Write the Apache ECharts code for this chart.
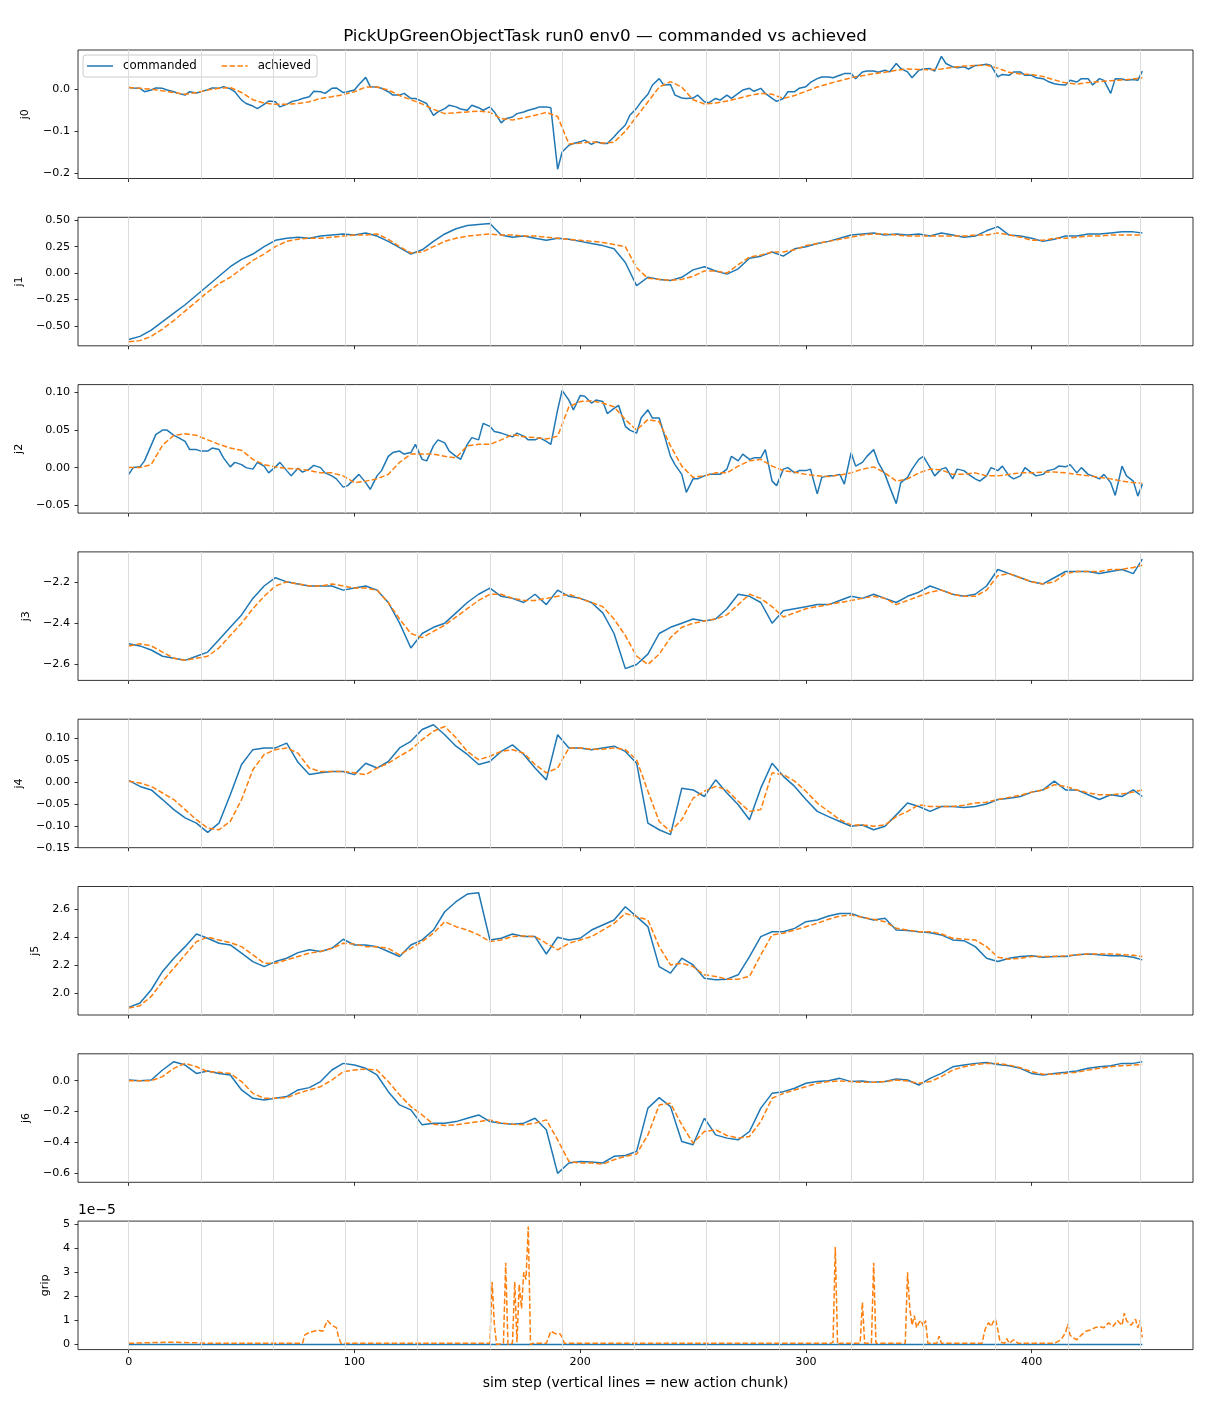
<!DOCTYPE html>
<html>
<head>
<meta charset="utf-8">
<title>PickUpGreenObjectTask run0 env0 — commanded vs achieved</title>
<script src="https://cdn.jsdelivr.net/npm/echarts@6.0.0/dist/echarts.min.js"></script>
<style>
  html, body { margin: 0; padding: 0; background: #fff; }
  #chart { width: 1210px; height: 1408px; }
</style>
</head>
<body>
<div id="chart"></div>
<script>
// sim steps sampled for the joint traces
var steps = [0,5,10,15,20,25,30,35,40,45,50,55,60,65,70,75,80,85,90,95,
  100,105,110,115,120,125,130,135,140,145,150,155,160,165,170,175,180,185,190,195,
  200,205,210,215,220,225,230,235,240,245,250,255,260,265,270,275,280,285,290,295,
  300,305,310,315,320,325,330,335,340,345,350,355,360,365,370,375,380,385,390,395,
  400,405,410,415,420,425,430,435,440,445,449];

// denser sampling for the noisiest commanded traces (j0, j2)
var stepsFine = [0,2,5,7,10,12,15,17,20,22,25,27,30,32,35,37,40,42,45,47,
  50,52,55,57,60,62,65,67,70,72,75,77,80,82,85,87,90,92,95,97,
  100,102,105,107,110,112,115,117,120,122,125,127,130,132,135,137,140,142,145,147,
  150,152,155,157,160,162,165,167,170,172,175,177,180,182,185,187,190,192,195,197,
  200,202,205,207,210,212,215,217,220,222,225,227,230,232,235,237,240,242,245,247,
  250,252,255,257,260,262,265,267,270,272,275,277,280,282,285,287,290,292,295,297,
  300,302,305,307,310,312,315,317,320,322,325,327,330,332,335,337,340,342,345,347,
  350,352,355,357,360,362,365,367,370,372,375,377,380,382,385,387,390,392,395,397,
  400,402,405,407,410,412,415,417,420,422,425,427,430,432,435,437,440,442,445,447,
  449];

// a new action chunk starts every 32 steps
var chunkSteps = [0,32,64,96,128,160,192,224,256,288,320,352,384,416,448];

var j0Cmd = [0.004,0.003,0.002,-0.006,-0.002,0.003,0.002,-0.002,-0.006,-0.010,
  -0.014,-0.006,-0.009,-0.006,-0.001,0.003,0.002,0.006,0.001,-0.006,
  -0.026,-0.034,-0.040,-0.046,-0.036,-0.028,-0.030,-0.042,-0.036,-0.030,
  -0.026,-0.022,-0.018,-0.005,-0.006,-0.010,0.002,0.003,-0.008,-0.006,
  -0.002,0.011,0.028,0.006,0.005,0.002,-0.006,-0.014,-0.014,-0.010,
  -0.022,-0.022,-0.029,-0.034,-0.062,-0.054,-0.046,-0.038,-0.042,-0.047,
  -0.050,-0.038,-0.044,-0.050,-0.042,-0.054,-0.080,-0.070,-0.066,-0.058,
  -0.054,-0.050,-0.046,-0.042,-0.042,-0.044,-0.190,-0.149,-0.133,-0.129,
  -0.125,-0.121,-0.131,-0.125,-0.129,-0.129,-0.113,-0.101,-0.085,-0.062,
  -0.045,-0.030,-0.012,0.010,0.025,0.010,0.011,-0.014,-0.021,-0.022,
  -0.021,-0.014,-0.030,-0.032,-0.022,-0.026,-0.014,-0.022,-0.010,-0.002,
  0.002,-0.005,0.002,-0.010,-0.022,-0.029,-0.022,-0.006,-0.006,0.002,
  0.006,0.016,0.025,0.029,0.029,0.027,0.033,0.037,0.037,0.025,
  0.041,0.043,0.043,0.040,0.045,0.041,0.061,0.049,0.041,0.027,
  0.045,0.048,0.049,0.043,0.078,0.061,0.053,0.051,0.053,0.048,
  0.056,0.057,0.059,0.056,0.029,0.035,0.033,0.041,0.041,0.033,
  0.033,0.027,0.025,0.019,0.013,0.011,0.010,0.021,0.017,0.025,
  0.025,0.010,0.025,0.021,-0.010,0.025,0.024,0.021,0.023,0.021,
  0.043];
var j0Ach = [0.004,0.002,0.000,-0.004,-0.008,-0.012,-0.008,-0.002,0.002,0.004,
  -0.008,-0.025,-0.033,-0.036,-0.036,-0.034,-0.030,-0.022,-0.018,-0.013,
  -0.006,0.005,0.005,-0.002,-0.015,-0.025,-0.035,-0.048,-0.058,-0.056,
  -0.054,-0.052,-0.055,-0.070,-0.073,-0.068,-0.062,-0.055,-0.065,-0.130,
  -0.128,-0.125,-0.128,-0.126,-0.100,-0.065,-0.030,0.005,0.018,0.005,
  -0.025,-0.035,-0.033,-0.028,-0.022,-0.015,-0.010,-0.012,-0.022,-0.015,
  -0.005,0.005,0.013,0.020,0.027,0.032,0.037,0.040,0.045,0.048,
  0.047,0.046,0.048,0.052,0.055,0.056,0.057,0.050,0.040,0.036,
  0.035,0.030,0.022,0.015,0.012,0.016,0.018,0.020,0.022,0.024,
  0.027];

var j1Cmd = [-0.63,-0.60,-0.54,-0.46,-0.38,-0.30,-0.21,-0.12,-0.03,0.06,
  0.13,0.18,0.25,0.31,0.33,0.34,0.33,0.35,0.36,0.37,
  0.36,0.38,0.35,0.30,0.24,0.18,0.22,0.30,0.37,0.42,
  0.45,0.46,0.47,0.36,0.34,0.35,0.33,0.31,0.33,0.32,
  0.30,0.28,0.26,0.23,0.10,-0.12,-0.04,-0.06,-0.07,-0.04,
  0.03,0.06,0.02,-0.01,0.04,0.14,0.16,0.20,0.16,0.23,
  0.25,0.28,0.30,0.33,0.36,0.37,0.38,0.36,0.37,0.36,
  0.37,0.35,0.38,0.36,0.34,0.35,0.40,0.44,0.36,0.35,
  0.33,0.30,0.32,0.35,0.35,0.37,0.37,0.38,0.39,0.39,
  0.38];
var j1Ach = [-0.65,-0.64,-0.60,-0.53,-0.45,-0.36,-0.27,-0.18,-0.10,-0.04,
  0.04,0.12,0.18,0.25,0.30,0.32,0.33,0.33,0.34,0.35,
  0.36,0.36,0.37,0.32,0.25,0.19,0.20,0.25,0.30,0.33,
  0.35,0.36,0.37,0.36,0.36,0.35,0.35,0.34,0.33,0.32,
  0.31,0.30,0.29,0.27,0.25,0.05,-0.05,-0.06,-0.07,-0.06,
  -0.03,0.02,0.02,0.00,0.08,0.15,0.17,0.20,0.20,0.22,
  0.26,0.28,0.30,0.32,0.34,0.36,0.37,0.37,0.36,0.35,
  0.35,0.35,0.35,0.35,0.35,0.36,0.36,0.38,0.36,0.34,
  0.31,0.31,0.33,0.33,0.34,0.35,0.35,0.36,0.36,0.36,
  0.36];

var j2Cmd = [-0.009,0.000,0.001,0.009,0.030,0.044,0.050,0.050,0.043,0.040,
  0.035,0.024,0.024,0.022,0.022,0.026,0.024,0.013,0.001,0.007,
  0.004,0.000,-0.002,0.007,0.002,-0.007,0.001,0.007,-0.004,-0.011,
  -0.001,-0.006,-0.002,0.003,0.000,-0.007,-0.011,-0.015,-0.026,-0.024,
  -0.015,-0.009,-0.020,-0.029,-0.011,-0.004,0.015,0.020,0.022,0.018,
  0.020,0.031,0.011,0.009,0.029,0.037,0.033,0.022,0.015,0.011,
  0.031,0.040,0.037,0.059,0.055,0.048,0.046,0.044,0.041,0.046,
  0.042,0.037,0.037,0.040,0.035,0.031,0.077,0.103,0.090,0.077,
  0.096,0.095,0.086,0.090,0.088,0.072,0.079,0.083,0.055,0.050,
  0.046,0.066,0.077,0.066,0.066,0.046,0.015,0.004,-0.009,-0.033,
  -0.015,-0.015,-0.011,-0.009,-0.009,-0.009,-0.002,0.015,0.009,0.018,
  0.011,0.013,0.013,0.024,-0.018,-0.024,-0.002,0.000,-0.007,-0.004,
  -0.004,-0.002,-0.035,-0.013,-0.011,-0.011,-0.009,-0.022,0.020,0.002,
  0.007,0.015,0.024,0.007,-0.009,-0.025,-0.048,-0.020,-0.013,-0.002,
  0.011,0.015,0.000,-0.011,-0.002,0.000,-0.015,-0.002,-0.004,-0.009,
  -0.015,-0.018,-0.011,0.000,-0.004,0.002,-0.011,-0.015,-0.011,0.000,
  -0.007,-0.011,-0.009,-0.004,-0.002,0.002,0.001,0.004,-0.007,0.000,
  -0.009,-0.011,-0.015,-0.009,-0.020,-0.037,0.002,-0.011,-0.018,-0.038,
  -0.022];
var j2Ach = [0.000,0.000,0.004,0.030,0.043,0.045,0.043,0.037,0.031,0.026,
  0.023,0.011,0.004,0.001,-0.001,-0.002,-0.004,-0.007,-0.007,-0.011,
  -0.020,-0.018,-0.015,-0.009,0.007,0.018,0.018,0.018,0.015,0.013,
  0.029,0.031,0.031,0.037,0.044,0.041,0.040,0.038,0.042,0.081,
  0.088,0.089,0.086,0.081,0.064,0.050,0.064,0.061,0.029,0.002,
  -0.013,-0.011,-0.007,-0.007,0.002,0.009,0.011,0.002,-0.004,-0.006,
  -0.009,-0.011,-0.012,-0.010,-0.007,-0.002,0.001,-0.007,-0.018,-0.015,
  -0.007,-0.002,-0.003,-0.009,-0.009,-0.007,-0.011,-0.011,-0.009,-0.007,
  -0.007,-0.006,-0.006,-0.007,-0.009,-0.011,-0.013,-0.015,-0.018,-0.020,
  -0.021];

var j3Cmd = [-2.50,-2.51,-2.53,-2.56,-2.57,-2.58,-2.56,-2.54,-2.48,-2.42,
  -2.36,-2.28,-2.22,-2.18,-2.20,-2.21,-2.22,-2.22,-2.22,-2.24,
  -2.23,-2.22,-2.24,-2.30,-2.40,-2.52,-2.45,-2.42,-2.40,-2.35,
  -2.30,-2.26,-2.23,-2.27,-2.28,-2.30,-2.26,-2.31,-2.24,-2.27,
  -2.28,-2.30,-2.35,-2.45,-2.62,-2.60,-2.55,-2.45,-2.42,-2.40,
  -2.38,-2.39,-2.38,-2.33,-2.26,-2.27,-2.30,-2.40,-2.34,-2.33,
  -2.32,-2.31,-2.31,-2.29,-2.27,-2.28,-2.26,-2.28,-2.30,-2.27,
  -2.25,-2.22,-2.24,-2.26,-2.27,-2.26,-2.22,-2.14,-2.16,-2.18,
  -2.20,-2.21,-2.18,-2.15,-2.15,-2.15,-2.16,-2.15,-2.14,-2.16,
  -2.09];
var j3Ach = [-2.51,-2.50,-2.51,-2.54,-2.57,-2.58,-2.57,-2.56,-2.52,-2.46,
  -2.40,-2.33,-2.27,-2.22,-2.20,-2.21,-2.22,-2.22,-2.21,-2.22,
  -2.23,-2.23,-2.24,-2.30,-2.38,-2.45,-2.47,-2.44,-2.41,-2.37,
  -2.33,-2.29,-2.26,-2.26,-2.28,-2.29,-2.29,-2.28,-2.27,-2.26,
  -2.28,-2.30,-2.32,-2.38,-2.46,-2.56,-2.60,-2.55,-2.47,-2.42,
  -2.40,-2.39,-2.38,-2.36,-2.31,-2.26,-2.28,-2.32,-2.37,-2.35,
  -2.33,-2.32,-2.31,-2.30,-2.29,-2.28,-2.27,-2.28,-2.31,-2.29,
  -2.27,-2.25,-2.24,-2.26,-2.27,-2.27,-2.24,-2.17,-2.16,-2.18,
  -2.20,-2.21,-2.20,-2.16,-2.15,-2.15,-2.15,-2.14,-2.14,-2.13,
  -2.12];

var j4Cmd = [0.004,-0.010,-0.018,-0.040,-0.063,-0.082,-0.094,-0.115,-0.094,-0.029,
  0.040,0.074,0.078,0.078,0.089,0.045,0.017,0.021,0.024,0.024,
  0.017,0.043,0.032,0.047,0.078,0.093,0.120,0.131,0.108,0.082,
  0.063,0.040,0.047,0.070,0.085,0.063,0.032,0.005,0.108,0.078,
  0.078,0.074,0.078,0.082,0.070,0.043,-0.094,-0.109,-0.120,-0.014,
  -0.018,-0.033,0.005,-0.025,-0.052,-0.086,-0.014,0.043,0.013,-0.010,
  -0.040,-0.067,-0.079,-0.090,-0.101,-0.098,-0.109,-0.101,-0.075,-0.048,
  -0.056,-0.067,-0.056,-0.056,-0.058,-0.056,-0.050,-0.040,-0.037,-0.033,
  -0.023,-0.018,0.002,-0.018,-0.018,-0.029,-0.040,-0.029,-0.033,-0.018,
  -0.033];
var j4Ach = [0.002,-0.002,-0.010,-0.025,-0.040,-0.063,-0.086,-0.105,-0.109,-0.090,
  -0.040,0.028,0.063,0.074,0.078,0.066,0.032,0.024,0.024,0.024,
  0.021,0.017,0.032,0.043,0.059,0.074,0.097,0.116,0.127,0.101,
  0.070,0.051,0.059,0.070,0.074,0.066,0.040,0.021,0.032,0.078,
  0.078,0.075,0.075,0.078,0.074,0.051,-0.021,-0.090,-0.113,-0.086,
  -0.037,-0.021,-0.010,-0.018,-0.044,-0.067,-0.063,0.021,0.017,0.002,
  -0.021,-0.048,-0.067,-0.086,-0.098,-0.098,-0.101,-0.098,-0.079,-0.067,
  -0.052,-0.056,-0.056,-0.056,-0.053,-0.048,-0.046,-0.040,-0.035,-0.030,
  -0.023,-0.018,-0.006,-0.010,-0.018,-0.025,-0.029,-0.029,-0.027,-0.023,
  -0.018];

var j5Cmd = [1.898,1.929,2.024,2.155,2.250,2.333,2.424,2.393,2.357,2.345,
  2.286,2.226,2.190,2.226,2.250,2.290,2.310,2.298,2.321,2.386,
  2.345,2.345,2.333,2.298,2.262,2.345,2.381,2.452,2.583,2.655,
  2.710,2.719,2.381,2.393,2.424,2.405,2.405,2.280,2.400,2.381,
  2.393,2.452,2.488,2.524,2.619,2.548,2.476,2.190,2.143,2.250,
  2.202,2.107,2.095,2.100,2.131,2.262,2.405,2.440,2.440,2.464,
  2.512,2.524,2.552,2.571,2.571,2.543,2.524,2.536,2.452,2.448,
  2.440,2.433,2.417,2.381,2.376,2.333,2.250,2.226,2.250,2.262,
  2.267,2.257,2.262,2.262,2.274,2.281,2.274,2.267,2.267,2.257,
  2.238];
var j5Ach = [1.893,1.910,1.976,2.083,2.179,2.274,2.369,2.400,2.381,2.362,
  2.333,2.274,2.214,2.214,2.238,2.262,2.286,2.298,2.321,2.357,
  2.352,2.333,2.333,2.321,2.274,2.321,2.369,2.429,2.512,2.476,
  2.452,2.417,2.369,2.381,2.405,2.410,2.405,2.357,2.310,2.357,
  2.381,2.405,2.452,2.500,2.571,2.548,2.524,2.333,2.202,2.214,
  2.190,2.131,2.119,2.100,2.100,2.119,2.274,2.417,2.429,2.452,
  2.476,2.500,2.529,2.552,2.560,2.543,2.529,2.512,2.464,2.452,
  2.440,2.440,2.424,2.393,2.386,2.381,2.333,2.257,2.243,2.250,
  2.262,2.262,2.262,2.267,2.274,2.281,2.281,2.281,2.276,2.271,
  2.262];

var j6Cmd = [0.004,0.000,0.004,0.069,0.123,0.101,0.047,0.062,0.047,0.037,
  -0.060,-0.114,-0.125,-0.114,-0.103,-0.060,-0.045,-0.006,0.069,0.112,
  0.101,0.080,0.037,-0.071,-0.157,-0.189,-0.286,-0.275,-0.275,-0.265,
  -0.243,-0.222,-0.265,-0.275,-0.282,-0.275,-0.243,-0.318,-0.600,-0.533,
  -0.523,-0.527,-0.533,-0.490,-0.484,-0.458,-0.178,-0.110,-0.168,-0.394,
  -0.415,-0.243,-0.351,-0.372,-0.383,-0.329,-0.178,-0.082,-0.071,-0.049,
  -0.017,-0.006,0.000,0.015,-0.006,-0.002,-0.011,-0.006,0.011,0.004,
  -0.028,0.015,0.047,0.090,0.101,0.112,0.118,0.105,0.097,0.080,
  0.047,0.037,0.047,0.054,0.062,0.080,0.090,0.097,0.112,0.112,
  0.123];
var j6Ach = [0.000,0.000,0.000,0.026,0.080,0.112,0.090,0.058,0.054,0.047,
  -0.006,-0.082,-0.114,-0.114,-0.110,-0.082,-0.060,-0.039,0.004,0.058,
  0.069,0.075,0.069,-0.006,-0.092,-0.168,-0.222,-0.282,-0.290,-0.286,
  -0.275,-0.265,-0.254,-0.275,-0.282,-0.286,-0.275,-0.254,-0.383,-0.523,
  -0.533,-0.533,-0.540,-0.512,-0.490,-0.475,-0.351,-0.157,-0.146,-0.286,
  -0.404,-0.329,-0.318,-0.355,-0.372,-0.361,-0.265,-0.114,-0.082,-0.060,
  -0.039,-0.017,-0.006,-0.002,-0.006,-0.011,-0.011,-0.006,0.004,-0.002,
  -0.017,-0.006,0.026,0.069,0.090,0.105,0.112,0.112,0.101,0.084,
  0.058,0.041,0.041,0.047,0.054,0.069,0.080,0.090,0.097,0.101,
  0.105];

// gripper: values in units of 1e-5
var gripCmdSteps = [0, 449];
var gripCmd = [0, 0];
var gripSteps = [0,10,20,30,35,50,77,78,80,82,84,86,88,90,92,93,94,100,140,160,
  161,162,163,166,167,168,170,171,172,173,174,175,176,177,178,179,185,186,187,189,
  191,192,193,250,311,312,313,314,315,324,325,326,329,330,331,344,345,346,347,348,
  349,350,351,352,353,354,358,359,360,378,379,380,381,382,383,384,385,386,388,389,
  390,392,394,410,413,415,416,417,418,420,422,424,426,428,430,432,434,436,438,440,
  441,442,444,446,447,448,449];
var gripAch = [0.05,0.08,0.1,0.07,0.05,0.05,0.05,0.4,0.5,0.55,0.6,0.55,1.0,0.8,0.7,0.3,0.05,0.05,0.05,0.05,
  2.6,0.8,0.0,0.05,3.4,0.0,0.05,2.6,0.1,2.5,1.5,3.0,2.7,4.9,0.0,0.05,0.05,0.3,0.55,0.45,
  0.45,0.3,0.05,0.05,0.05,0.1,4.05,0.0,0.05,0.05,1.75,0.05,0.05,3.4,0.05,0.05,3.0,1.5,0.8,1.2,
  0.7,0.9,1.0,0.75,1.0,0.05,0.05,0.35,0.05,0.05,0.5,0.8,0.9,0.75,0.95,1.05,0.6,0.1,0.05,0.25,
  0.05,0.2,0.05,0.05,0.2,0.5,0.85,0.4,0.3,0.2,0.4,0.55,0.6,0.7,0.75,0.7,0.9,0.75,1.0,0.8,
  1.3,1.0,0.8,1.05,0.7,1.0,0.3];

var xTicks = [0, 100, 200, 300, 400];
var FONT = 'DejaVu Sans';
var BLUE = '#1f77b4';
var ORANGE = '#ff7f0e';

var panels = [
  { name: 'j0', cmdX: stepsFine, cmd: j0Cmd, achX: steps, ach: j0Ach, min: -0.212, max: 0.093, ticks: [-0.2, -0.1, 0.0], dec: 1, gap: 47 },
  { name: 'j1', cmdX: steps, cmd: j1Cmd, achX: steps, ach: j1Ach, min: -0.689, max: 0.528, ticks: [-0.5, -0.25, 0, 0.25, 0.5], dec: 2, gap: 53 },
  { name: 'j2', cmdX: stepsFine, cmd: j2Cmd, achX: steps, ach: j2Ach, min: -0.0606, max: 0.1106, ticks: [-0.05, 0, 0.05, 0.10], dec: 2, gap: 53 },
  { name: 'j3', cmdX: steps, cmd: j3Cmd, achX: steps, ach: j3Ach, min: -2.677, max: -2.055, ticks: [-2.6, -2.4, -2.2], dec: 1, gap: 46 },
  { name: 'j4', cmdX: steps, cmd: j4Cmd, achX: steps, ach: j4Ach, min: -0.150, max: 0.1436, ticks: [-0.15, -0.10, -0.05, 0, 0.05, 0.10], dec: 2, gap: 53 },
  { name: 'j5', cmdX: steps, cmd: j5Cmd, achX: steps, ach: j5Ach, min: 1.843, max: 2.764, ticks: [2.0, 2.2, 2.4, 2.6], dec: 1, gap: 37 },
  { name: 'j6', cmdX: steps, cmd: j6Cmd, achX: steps, ach: j6Ach, min: -0.658, max: 0.174, ticks: [-0.6, -0.4, -0.2, 0.0], dec: 1, gap: 46 },
  { name: 'grip', cmdX: gripCmdSteps, cmd: gripCmd, achX: gripSteps, ach: gripAch, min: -0.21, max: 5.125, ticks: [0, 1, 2, 3, 4, 5], dec: 0, gap: 27 }
];

var pairs = function (xs, ys, label) {
  if (xs.length !== ys.length) {
    throw new Error('length mismatch in ' + label + ': ' + xs.length + ' vs ' + ys.length);
  }
  return ys.map(function (v, i) { return [xs[i], v]; });
};

var fmt = function (dec) {
  return function (v) {
    var s = Math.abs(v).toFixed(dec);
    return (v < -1e-9 ? '\u2212' : '') + s;
  };
};

var chart = echarts.init(document.getElementById('chart'), null, { renderer: 'canvas' });

var grids = [];
var xAxes = [];
var yAxes = [];
var series = [];

panels.forEach(function (p, i) {
  var last = i === panels.length - 1;
  grids.push({
    left: 78, width: 1115, top: 50 + i * 167.3, height: 128.5,
    show: true, borderColor: '#000', borderWidth: 0.8, backgroundColor: 'transparent',
    containLabel: false, outerBoundsMode: 'none'
  });
  xAxes.push({
    type: 'value', gridIndex: i, min: -22.45, max: 471.45,
    axisLine: { show: false, onZero: false }, splitLine: { show: false },
    axisTick: { show: true, customValues: xTicks, length: 3.5, lineStyle: { color: '#000', width: 0.8 } },
    axisLabel: { show: last, customValues: xTicks, fontSize: 11.1, color: '#000', fontFamily: FONT, margin: 7 },
    name: last ? 'sim step (vertical lines = new action chunk)' : '',
    nameLocation: 'middle', nameGap: 27,
    nameTextStyle: { fontSize: 13.9, color: '#000', fontFamily: FONT }
  });
  yAxes.push({
    type: 'value', gridIndex: i, min: p.min, max: p.max,
    name: p.name, nameLocation: 'middle', nameRotate: 90, nameGap: p.gap,
    nameTextStyle: { fontSize: 11.1, color: '#000', fontFamily: FONT },
    axisLine: { show: false, onZero: false }, splitLine: { show: false },
    axisTick: { show: true, customValues: p.ticks, length: 3.5, lineStyle: { color: '#000', width: 0.8 } },
    axisLabel: { show: true, customValues: p.ticks, formatter: fmt(p.dec), fontSize: 11.1, color: '#000', fontFamily: FONT, margin: 8 }
  });
  // action chunk boundaries
  series.push({
    type: 'line', xAxisIndex: i, yAxisIndex: i, data: [], silent: true, z: 1,
    markLine: {
      silent: true, symbol: ['none', 'none'], label: { show: false },
      lineStyle: { color: '#dcdcdc', width: 1, type: 'solid' },
      emphasis: { disabled: true }, animation: false,
      data: chunkSteps.map(function (s) { return { xAxis: s }; })
    }
  });
  series.push({
    name: 'commanded', type: 'line', xAxisIndex: i, yAxisIndex: i, z: 2,
    data: pairs(p.cmdX, p.cmd, p.name + ' commanded'),
    symbol: 'none', showSymbol: false,
    lineStyle: { color: BLUE, width: 1.5 }, itemStyle: { color: BLUE },
    emphasis: { disabled: true }
  });
  series.push({
    name: 'achieved', type: 'line', xAxisIndex: i, yAxisIndex: i, z: 3,
    data: pairs(p.achX, p.ach, p.name + ' achieved'),
    symbol: 'none', showSymbol: false,
    lineStyle: { color: ORANGE, width: 1.5, type: [5.5, 2.4] }, itemStyle: { color: ORANGE },
    emphasis: { disabled: true }
  });
});

var option = {
  animation: false,
  backgroundColor: '#fff',
  textStyle: { fontFamily: FONT },
  title: {
    text: 'PickUpGreenObjectTask run0 env0 \u2014 commanded vs achieved',
    left: 'center', top: 28, padding: 0,
    textStyle: { fontSize: 16.7, fontWeight: 'normal', color: '#000', fontFamily: FONT }
  },
  legend: {
    data: [
      { name: 'commanded', icon: 'path://M0,0H26V1.5H0Z' },
      { name: 'achieved', icon: 'path://M0,0H5.5V1.5H0ZM7.9,0H13.4V1.5H7.9ZM15.8,0H21.3V1.5H15.8ZM23.7,0H26V1.5H23.7Z' }
    ],
    left: 83, top: 55, orient: 'horizontal',
    itemWidth: 26, itemHeight: 12, itemGap: 25,
    padding: [5, 6, 5, 4],
    borderColor: '#cccccc', borderWidth: 1, borderRadius: 3,
    backgroundColor: 'rgba(255,255,255,0.8)',
    selectedMode: false,
    itemStyle: { borderWidth: 0 },
    lineStyle: { width: 0 },
    textStyle: { fontSize: 11.8, color: '#000', fontFamily: FONT, padding: [0, 0, 0, 5] }
  },
  graphic: [{
    type: 'text', left: 78, top: 1203,
    style: { text: '1e\u22125', fontSize: 13.9, fill: '#000', fontFamily: FONT }
  }],
  grid: grids,
  xAxis: xAxes,
  yAxis: yAxes,
  series: series
};

chart.setOption(option);
</script>
</body>
</html>
